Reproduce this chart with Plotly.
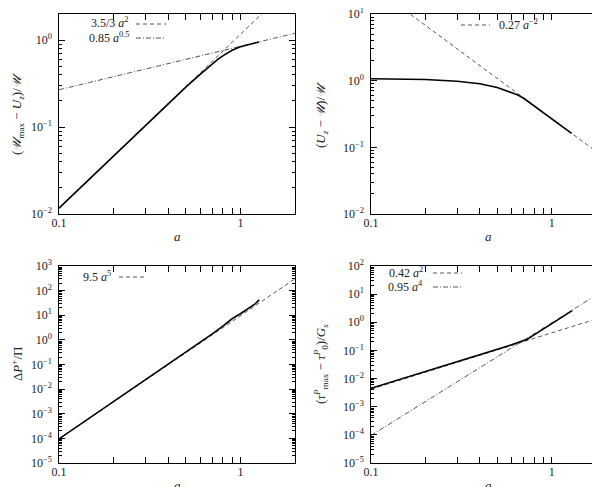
import math
import plotly.graph_objects as go

# ---------------- data ----------------
# Panel 1: (U_max - U_z)/U
a1 = [0.1, 0.2, 0.3, 0.4, 0.5, 0.6, 0.65, 0.7, 0.75, 0.8, 0.85, 0.9, 1.0, 1.1, 1.2, 1.27]
y1 = [0.0117, 0.0467, 0.105, 0.186, 0.288, 0.405, 0.468, 0.535, 0.60, 0.66, 0.715, 0.765, 0.84, 0.885, 0.925, 0.955]
fit1a = (3.5 / 3, 2.0)    # 3.5/3 a^2
fit1b = (0.85, 0.5)       # 0.85 a^0.5

# Panel 2: (U_z - U)/U
a2 = [0.1, 0.15, 0.2, 0.3, 0.4, 0.5, 0.6, 0.65, 0.7, 0.8, 0.9, 1.0, 1.1, 1.2, 1.29]
y2 = [1.07, 1.06, 1.04, 0.98, 0.90, 0.79, 0.67, 0.61, 0.545, 0.42, 0.333, 0.27, 0.223, 0.188, 0.162]
fit2 = (0.27, -2.0)       # 0.27 a^-2

# Panel 3: DeltaP+/Pi
a3 = [0.1, 0.2, 0.3, 0.4, 0.5, 0.6, 0.7, 0.8, 0.9, 1.0, 1.1, 1.2, 1.27]
y3 = [9.5e-5, 3.05e-3, 0.0232, 0.098, 0.30, 0.77, 1.75, 3.6, 7.2, 11.5, 18.0, 28.0, 42.0]
fit3 = (9.5, 5.0)         # 9.5 a^5

# Panel 4: (tau^P_max - tau^P_0)/G_s
a4 = [0.1, 0.2, 0.3, 0.4, 0.5, 0.6, 0.7, 0.73, 0.8, 0.9, 1.0, 1.1, 1.2, 1.3]
y4 = [0.0045, 0.0175, 0.039, 0.069, 0.108, 0.158, 0.225, 0.245, 0.355, 0.575, 0.88, 1.31, 1.88, 2.6]
fit4a = (0.42, 2.0)       # 0.42 a^2
fit4b = (0.95, 4.0)       # 0.95 a^4

x_range = [0.1, 2.0]
ylims = {1: (0.01, 2.0), 2: (0.01, 10.0), 3: (1e-5, 1e3), 4: (1e-5, 1e2)}

FONT = "Liberation Serif, Times New Roman, serif"
W, H = 600, 487

# pixel boxes of each panel (left, right, top, bottom)
boxes = {1: (51, 287, 6, 206), 2: (363, 598, 6, 206),
         3: (51, 287, 258, 455), 4: (363, 598, 258, 455)}

fig = go.Figure()


def sup(n):
    s = str(n).replace("-", "−")
    return "10<sup>%s</sup>" % s


def fitline(c, p):
    lo, hi = math.log10(x_range[0]), math.log10(x_range[1])
    n = 60
    xs = [10 ** (lo + (hi - lo) * k / n) for k in range(n + 1)]
    ys = [c * x ** p for x in xs]
    return xs, ys


def axname(i, kind):
    return kind if i == 1 else "%s%d" % (kind, i)


DASH = "4px,3px"
DASHDOT = "5px,2px,1px,2px"
lines_def = {
    1: [(fit1a, DASH), (fit1b, DASHDOT)],
    2: [(fit2, DASH)],
    3: [(fit3, DASH)],
    4: [(fit4a, DASH), (fit4b, DASHDOT)],
}
curves = {1: (a1, y1), 2: (a2, y2), 3: (a3, y3), 4: (a4, y4)}

tickfont = dict(family=FONT, size=12, color="#222")
for i in range(1, 5):
    xa = "x" if i == 1 else "x%d" % i
    ya = "y" if i == 1 else "y%d" % i
    for (coef, style) in lines_def[i]:
        xs, ys = fitline(coef[0], coef[1])
        fig.add_trace(go.Scatter(x=xs, y=ys, mode="lines", xaxis=xa, yaxis=ya,
                                 line=dict(color="#555", width=1, dash=style),
                                 showlegend=False, hoverinfo="skip"))
    ax, ay = curves[i]
    fig.add_trace(go.Scatter(x=ax, y=ay, mode="lines", xaxis=xa, yaxis=ya,
                             line=dict(color="black", width=1.6),
                             showlegend=False))
    # empty trace so that the label-only overlay axis gets drawn
    fig.add_trace(go.Scatter(x=[], y=[], mode="lines", xaxis=xa, yaxis="y%d" % (i + 4),
                             showlegend=False, hoverinfo="skip"))

    l, r, t, b = boxes[i]
    ylo, yhi = ylims[i]
    e0, e1 = int(round(math.log10(ylo))), int(round(math.log10(yhi)))
    ytv = [10.0 ** e for e in range(e0, e1 + 1) if 10.0 ** e <= yhi * 1.0001]
    ytt = [sup(e) for e in range(e0, e1 + 1) if 10.0 ** e <= yhi * 1.0001]
    yrange = [math.log10(ylo) - 1e-4, math.log10(yhi) + 1e-4]
    common = dict(type="log", showline=True, linecolor="black", linewidth=1.2,
                  mirror="allticks", ticks="inside", ticklen=6, tickwidth=1,
                  tickcolor="black", showgrid=False, zeroline=False,
                  tickfont=tickfont, ticklabeloverflow="allow", automargin=False,
                  tickmode="linear", tick0=0, dtick=1,
                  minor=dict(dtick="D1", ticks="inside", ticklen=3, tickwidth=1,
                             tickcolor="black", showgrid=False))
    fig.layout[axname(i, "xaxis")] = dict(
        common, domain=[l / W, r / W], anchor=ya,
        range=[math.log10(x_range[0]) - 1e-4, math.log10(x_range[1])],
        ticklabelstandoff=-3)
    fig.layout[axname(i, "yaxis")] = dict(
        common, domain=[1 - b / H, 1 - t / H], anchor=xa, range=yrange,
        showticklabels=False)
    # overlay axis carrying the 10^n labels
    fig.layout["yaxis%d" % (i + 4)] = dict(
        type="log", overlaying=ya, anchor=xa, side="left", range=yrange,
        tickmode="array", tickvals=ytv, ticktext=ytt, ticks="", showline=False,
        showgrid=False, zeroline=False, tickfont=tickfont,
        ticklabeloverflow="allow", automargin=False, ticklabelstandoff=6)

# ---------------- titles (as annotations) ----------------
ann = []
tf = dict(family=FONT, size=13, color="#222")
ytitles = {
    1: ("(<i>𝒰</i><sub>max</sub> − <i>U<sub>z</sub></i>)/<i>𝒰</i>", 9, 106),
    2: ("(<i>U<sub>z</sub></i> − <i>𝒰</i>)/<i>𝒰</i>", 313, 106),
    3: ("Δ<i>P</i><sup>+</sup>/Π", 9, 356),
    4: ("(<i>τ</i><sup><i>P</i></sup><sub>max</sub> − <i>τ</i><sup><i>P</i></sup><sub>0</sub>)/<i>G<sub>s</sub></i>", 313, 356),
}
for i, (txt, px, py) in ytitles.items():
    ann.append(dict(text=txt, x=px / W, y=1 - py / H, xref="paper", yref="paper",
                    showarrow=False, textangle=-90, font=tf,
                    xanchor="center", yanchor="middle"))
for (px, py) in [(169, 228), (480, 228), (169, 477), (480, 477)]:
    ann.append(dict(text="<i>a</i>", x=px / W, y=1 - py / H, xref="paper", yref="paper",
                    showarrow=False, font=tf, xanchor="center", yanchor="middle"))

# ---------------- keys (gnuplot style) ----------------
lf = dict(family=FONT, size=12, color="#222")
keys = [
    # text, text right x, y, sample x0, x1, style
    ("3.5/3 <i>a</i><sup>2</sup>", 123, 15, 128, 158, DASH),
    ("0.85 <i>a</i><sup>0.5</sup>", 123, 29, 128, 158, DASHDOT),
    ("9.5 <i>a</i><sup>5</sup>", 105, 268, 111, 136, DASH),
    ("0.42 <i>a</i><sup>2</sup>", 417, 264, 425, 454, DASH),
    ("0.95 <i>a</i><sup>4</sup>", 417, 278, 425, 454, DASHDOT),
]
shapes = []
for txt, tx, ty, s0, s1, st in keys:
    ann.append(dict(text=txt, x=tx / W, y=1 - ty / H, xref="paper", yref="paper",
                    showarrow=False, font=lf, xanchor="right", yanchor="middle"))
    shapes.append(dict(type="line", xref="paper", yref="paper",
                       x0=s0 / W, x1=s1 / W, y0=1 - (ty + 1) / H, y1=1 - (ty + 1) / H,
                       line=dict(color="#555", width=1, dash=st)))
# panel 2 key: sample left of text
ann.append(dict(text="0.27 <i>a</i><sup>−2</sup>", x=489 / W, y=1 - 16 / H, xref="paper",
                yref="paper", showarrow=False, font=lf, xanchor="left", yanchor="middle"))
shapes.append(dict(type="line", xref="paper", yref="paper", x0=453 / W, x1=482 / W,
                   y0=1 - 17 / H, y1=1 - 17 / H, line=dict(color="#555", width=1, dash=DASH)))

fig.update_layout(width=W, height=H, margin=dict(l=0, r=0, t=0, b=0),
                  paper_bgcolor="white", plot_bgcolor="white",
                  annotations=ann, shapes=shapes, showlegend=False)

fig.write_html("out.html")
